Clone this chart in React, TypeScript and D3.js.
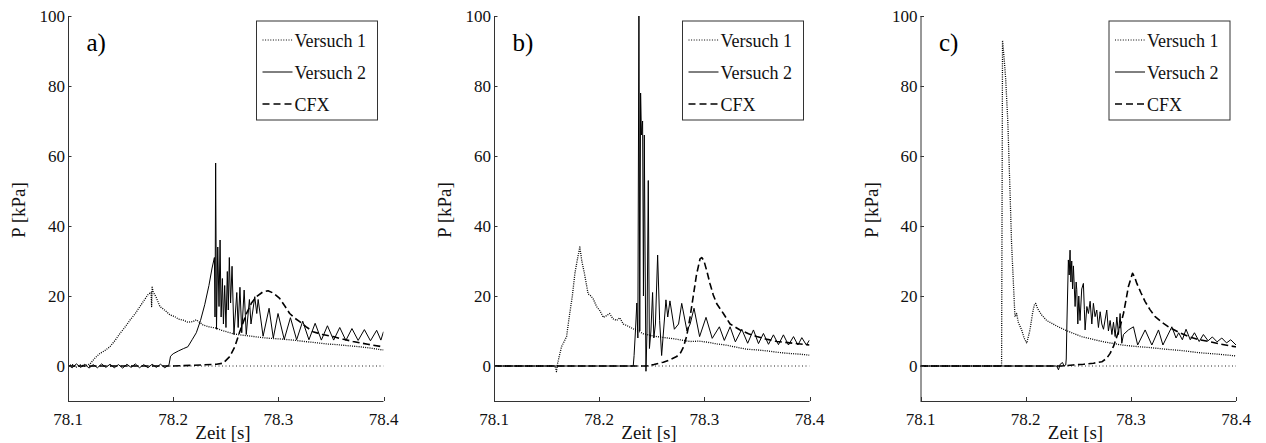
import React from "react";
import * as d3 from "d3";

// time axis / pressure axis
const xTicks = [78.1, 78.2, 78.3, 78.4];
const yTicks = [0, 20, 40, 60, 80, 100];
const panelLabels = ["a)", "b)", "c)"];
const seriesNames = ["Versuch 1", "Versuch 2", "CFX"];

// panel a
const aVersuch1 = [
  [78.1, 0], [78.104, 0.4], [78.108, -0.3], [78.112, 0.3], [78.116, 0], [78.121, 0.6],
  [78.126, 2.4], [78.1304, 3.6], [78.135, 4.4], [78.1399, 5.5], [78.145, 7.4], [78.1494, 9.3],
  [78.154, 11], [78.1589, 13.1], [78.164, 15], [78.1684, 17], [78.172, 18.6], [78.1763, 20.5],
  [78.179, 21], [78.1795, 17], [78.18, 22.5], [78.181, 21.2], [78.184, 19.5], [78.1874, 17],
  [78.19, 16.4], [78.1937, 15.5], [78.197, 14.6], [78.2016, 14.1], [78.205, 13.4], [78.2095, 13.1],
  [78.214, 12.5], [78.219, 12.7], [78.222, 13.2], [78.2285, 11.7], [78.234, 11.2], [78.2412, 10.8],
  [78.246, 10.2], [78.2507, 9.8], [78.257, 9.2], [78.2633, 8.9], [78.272, 8.6], [78.2823, 8.2],
  [78.292, 7.9], [78.303, 7.7], [78.314, 7.4], [78.325, 7], [78.3345, 6.7], [78.3457, 6.3],
  [78.356, 6.1], [78.366, 5.8], [78.3773, 5.5], [78.388, 5.1], [78.3989, 4.6], [78.4, 4.6],
];
const aVersuch2 = [
  [78.1, 0.3], [78.104, -0.5], [78.108, 0.6], [78.112, -0.4], [78.116, 0.5], [78.12, -0.6],
  [78.124, 0.4], [78.128, -0.5], [78.132, 0.6], [78.136, -0.4], [78.14, 0.5], [78.144, -0.5],
  [78.148, 0.4], [78.152, -0.6], [78.156, 0.5], [78.16, -0.4], [78.164, 0.6], [78.168, -0.5],
  [78.172, 0.4], [78.176, -0.5], [78.18, 0.5], [78.184, -0.4], [78.188, 0.5], [78.192, -0.5],
  [78.196, 0.3], [78.1975, 2.8], [78.2, 3.5], [78.205, 4.3], [78.21, 5], [78.214, 5.5],
  [78.218, 7.5], [78.222, 9.5], [78.226, 13], [78.23, 17.5], [78.234, 23], [78.237, 28],
  [78.2392, 31], [78.2398, 14], [78.2404, 58], [78.2412, 10.5], [78.2424, 34], [78.2436, 17],
  [78.2446, 36], [78.2456, 14], [78.2468, 25], [78.2478, 12], [78.249, 23], [78.2502, 11],
  [78.2515, 27], [78.2524, 16], [78.2534, 31], [78.2546, 18], [78.256, 28.5], [78.2578, 9],
  [78.2605, 21], [78.2618, 11], [78.2635, 22.5], [78.2652, 9.5], [78.2675, 21.7], [78.2695, 9],
  [78.2725, 19], [78.274, 12], [78.2776, 19.8], [78.2795, 15], [78.2808, 19], [78.2855, 8.5],
  [78.2912, 16.5], [78.2952, 8], [78.2997, 15], [78.3056, 7.6], [78.3115, 13.8], [78.3174, 7.5],
  [78.3232, 12.8], [78.3291, 7.5], [78.335, 12.2], [78.3409, 7.4], [78.3467, 11.5], [78.3526, 7.4],
  [78.3584, 11], [78.3642, 7.3], [78.37, 10.7], [78.3759, 7.3], [78.3818, 10.4], [78.3876, 7.2],
  [78.3935, 10.2], [78.3975, 7.4], [78.4, 9.8],
];
const aCFX = [
  [78.1, 0], [78.2, 0], [78.22, 0.2], [78.2412, 0.5], [78.2475, 0.8], [78.2538, 2.7],
  [78.2586, 5.5], [78.2633, 9.8], [78.2697, 15], [78.2745, 18], [78.2792, 19.8], [78.285, 21.1],
  [78.2902, 21.5], [78.2955, 20.8], [78.3013, 19.3], [78.306, 17.2], [78.3108, 15], [78.3155, 13.7],
  [78.3203, 12.7], [78.3265, 11.2], [78.3329, 9.8], [78.342, 9], [78.352, 8.4], [78.361, 7.7],
  [78.371, 7], [78.385, 6.2], [78.3989, 5.5], [78.4, 5.5],
];

// panel b
const bVersuch1 = [
  [78.1, 0], [78.158, 0], [78.1594, -1.6], [78.1605, 0.8], [78.1642, 5.5], [78.169, 8.4],
  [78.172, 15], [78.1745, 20], [78.1769, 26.4], [78.179, 30], [78.1816, 34], [78.1835, 30],
  [78.186, 26.4], [78.1895, 20.6], [78.1915, 20.2], [78.1943, 19.2], [78.1975, 17], [78.2007, 15.8],
  [78.2039, 13.9], [78.207, 14.4], [78.21, 15], [78.213, 13.5], [78.2166, 13], [78.2195, 13.8],
  [78.2229, 12], [78.226, 11.6], [78.2292, 11.1], [78.2325, 10.6], [78.2356, 10.2], [78.242, 9.2],
  [78.2475, 8.8], [78.2547, 8.4], [78.2625, 8.1], [78.2705, 7.8], [78.2785, 7.4], [78.2864, 7],
  [78.295, 7.1], [78.303, 6.8], [78.312, 6.3], [78.32, 6], [78.33, 5.4], [78.34, 4.8],
  [78.35, 4.6], [78.36, 4.3], [78.37, 3.9], [78.38, 3.6], [78.39, 3.4], [78.4, 3.1],
];
const bVersuch2 = [
  [78.1, 0], [78.2324, 0], [78.2332, 3], [78.2345, 10], [78.2358, 18], [78.2368, 8],
  [78.2378, 104], [78.2386, 10], [78.2394, 78], [78.2402, 66], [78.2413, 70], [78.2421, 20],
  [78.2429, 66], [78.2437, 30], [78.2445, -1.5], [78.2455, 10], [78.2467, 53], [78.2478, 5],
  [78.2492, 10], [78.2508, 21], [78.252, 8], [78.2535, 12], [78.2556, 31.7], [78.2575, 13],
  [78.2594, 3], [78.2635, 18.9], [78.2652, 14], [78.2673, 18.6], [78.2715, 10.5], [78.2755, 12],
  [78.2785, 17.9], [78.2835, 10], [78.2865, 12], [78.2902, 16.5], [78.2955, 8.4], [78.3016, 13.9],
  [78.3075, 7.9], [78.3143, 11.2], [78.319, 7.3], [78.3245, 11.2], [78.3295, 6.9], [78.3356, 10.5],
  [78.3412, 6.5], [78.3467, 10.3], [78.3515, 6.4], [78.3562, 9.3], [78.361, 6.2], [78.3657, 8.9],
  [78.3705, 6.1], [78.3752, 8.9], [78.38, 6], [78.3848, 8.4], [78.389, 6], [78.3927, 8.1],
  [78.397, 6], [78.4, 7.4],
];
const bCFX = [
  [78.1, 0], [78.2451, 0], [78.252, 0.4], [78.261, 1.1], [78.2675, 1.8], [78.2737, 2.7],
  [78.2775, 3.8], [78.28, 5.3], [78.2832, 8.5], [78.2864, 13.9], [78.2895, 20], [78.2925, 26],
  [78.2959, 30.6], [78.2975, 31], [78.2995, 30.2], [78.3025, 27], [78.3054, 23.5], [78.3085, 20.3],
  [78.3118, 17.8], [78.3181, 15], [78.3245, 12], [78.334, 10.3], [78.342, 9.2], [78.3499, 8.4],
  [78.36, 7.6], [78.369, 7], [78.385, 6.5], [78.4, 6],
];

// panel c
const cVersuch1 = [
  [78.1, 0], [78.1771, 0], [78.1777, 60], [78.178, 93], [78.1795, 88], [78.181, 82],
  [78.183, 70], [78.185, 51], [78.1866, 35], [78.1882, 24.6], [78.1898, 14.1], [78.1914, 15],
  [78.193, 12.5], [78.1962, 10.3], [78.1985, 8], [78.201, 6.5], [78.2041, 10.3], [78.2065, 15],
  [78.2082, 17.4], [78.2095, 17.9], [78.2115, 16.3], [78.2152, 14.6], [78.22, 13], [78.2248, 12.2],
  [78.231, 11.2], [78.2374, 10.3], [78.2455, 9.3], [78.2533, 8.4], [78.2625, 7.7], [78.2724, 7],
  [78.282, 6.5], [78.2914, 6], [78.304, 5.6], [78.3168, 5.3], [78.333, 4.8], [78.3486, 4.4],
  [78.365, 3.8], [78.382, 3.4], [78.3993, 2.9], [78.4, 2.9],
];
const cVersuch2 = [
  [78.1, 0], [78.2295, 0], [78.2312, -1.1], [78.2328, 0.5], [78.235, 1], [78.2365, 0],
  [78.2381, 0.3], [78.2386, 2], [78.2392, 12], [78.2406, 30.3], [78.2414, 26], [78.2422, 33.1],
  [78.243, 24], [78.2438, 30], [78.2446, 22], [78.2454, 28.6], [78.247, 17], [78.248, 24],
  [78.2486, 21.8], [78.2496, 12], [78.2505, 20], [78.2517, 13], [78.2533, 22], [78.2549, 23.6],
  [78.2558, 16.2], [78.2565, 10.3], [78.2582, 17], [78.2597, 15], [78.2613, 18.5], [78.2629, 12],
  [78.2644, 17.9], [78.266, 14.1], [78.2676, 16], [78.2692, 11], [78.2708, 15.5], [78.2724, 12],
  [78.274, 10.5], [78.2771, 16], [78.2787, 10], [78.2803, 13], [78.282, 9], [78.2835, 12.5],
  [78.2851, 8.4], [78.2867, 14], [78.2883, 9], [78.2898, 15], [78.2914, 6.5], [78.293, 9],
  [78.2977, 10.3], [78.3025, 11.2], [78.3065, 6], [78.3136, 10.3], [78.32, 6], [78.3263, 10.3],
  [78.3305, 6], [78.339, 11.2], [78.343, 8], [78.3455, 9.5], [78.349, 7.5], [78.3525, 10.5],
  [78.3565, 7.5], [78.3605, 9.5], [78.365, 7], [78.369, 9], [78.3735, 7.2], [78.3775, 8.3],
  [78.382, 6.9], [78.3865, 8], [78.391, 6.6], [78.395, 7.5], [78.4, 6],
];
const cCFX = [
  [78.1, 0], [78.2343, 0], [78.245, 0.3], [78.255, 0.5], [78.2645, 0.8], [78.2724, 1.2],
  [78.277, 2.2], [78.2803, 3.6], [78.2835, 5.6], [78.2867, 8.4], [78.29, 11.5], [78.293, 15],
  [78.2955, 19], [78.2977, 22.7], [78.3016, 26.5], [78.3035, 25.5], [78.3057, 23.6], [78.3095, 21],
  [78.3136, 18.4], [78.3182, 16.1], [78.3231, 14.1], [78.3295, 12.5], [78.3358, 11.2], [78.345, 9.7],
  [78.3549, 8.4], [78.364, 7.6], [78.3739, 7], [78.386, 6.2], [78.3993, 5.5], [78.4, 5.5],
];

const panelData = [
  [aVersuch1, aVersuch2, aCFX],
  [bVersuch1, bVersuch2, bCFX],
  [cVersuch1, cVersuch2, cCFX],
];

const W = 1266, H = 443;
const FONT = "Liberation Serif";
const LEFT = [68, 494, 920.5]; // plot left edge of each panel
const PW = 315.5, TOP = 16, BOTTOM = 401;
const DASH = ["1,1.2", undefined, "7,3.5"];
const SW = [1.3, 1, 1.6];

function Panel({ i }: { i: number }) {
  const x0 = LEFT[i];
  const x = d3.scaleLinear().domain([78.1, 78.4]).range([x0, x0 + PW]);
  const y = d3.scaleLinear().domain([-10, 100]).range([BOTTOM, TOP]);
  const line = d3.line<number[]>().x(d => x(d[0])).y(d => y(d[1]));
  const lx = x0 + 188.5;
  const rows = [40, 72, 104];

  return (
    <g>
      <defs>
        <clipPath id={"clip" + i}>
          <rect x={x0} y={TOP} width={PW} height={BOTTOM - TOP} />
        </clipPath>
      </defs>
      <g clipPath={`url(#clip${i})`}>
        <line x1={x(78.1)} x2={x(78.4)} y1={y(0)} y2={y(0)}
          stroke="#222" strokeWidth={1} strokeDasharray="1,2.5" />
        {panelData[i].map((s, k) => (
          <path key={k} d={line(s as number[][]) || ""} fill="none" stroke="#000"
            strokeWidth={SW[k]} strokeLinejoin="round" strokeDasharray={DASH[k]} />
        ))}
      </g>

      {/* axes: left and bottom only, ticks inward */}
      <line x1={x0 + 0.5} x2={x0 + 0.5} y1={TOP} y2={BOTTOM} stroke="#333" />
      <line x1={x0} x2={x0 + PW} y1={BOTTOM + 0.5} y2={BOTTOM + 0.5} stroke="#333" />
      {yTicks.map(t => (
        <g key={"y" + t}>
          <line x1={x0} x2={x0 + 3.5} y1={Math.round(y(t)) + 0.5} y2={Math.round(y(t)) + 0.5} stroke="#333" />
          <text x={x0 - 3} y={y(t)} dy="0.34em" textAnchor="end" fill="#111"
            style={{ fontFamily: FONT, fontSize: 17 }}>{t}</text>
        </g>
      ))}
      {xTicks.map(t => (
        <g key={"x" + t}>
          <line x1={Math.round(x(t)) + 0.5} x2={Math.round(x(t)) + 0.5} y1={BOTTOM} y2={BOTTOM - 4} stroke="#333" />
          <text x={x(t)} y={425} textAnchor="middle" fill="#111"
            style={{ fontFamily: FONT, fontSize: 17 }}>{d3.format(".1f")(t)}</text>
        </g>
      ))}

      <text transform={`translate(${x0 - 43},210) rotate(-90)`} textAnchor="middle" fill="#111"
        style={{ fontFamily: FONT, fontSize: 19 }}>P [kPa]</text>
      <text x={x0 + 155} y={439} textAnchor="middle" fill="#111"
        style={{ fontFamily: FONT, fontSize: 19 }}>Zeit [s]</text>

      <text x={x0 + 18.5} y={51} fill="#000" style={{ fontFamily: FONT, fontSize: 25 }}>
        {panelLabels[i]}
      </text>

      {/* legend */}
      <rect x={lx} y={21} width={121} height={99} fill="#fff" stroke="#333" />
      {seriesNames.map((name, k) => (
        <g key={name}>
          <line x1={lx + 6} x2={lx + 36} y1={rows[k]} y2={rows[k]} stroke="#000"
            strokeWidth={k === 0 ? 1 : SW[k]}
            strokeDasharray={k === 2 ? "7,4" : k === 0 ? "1,1.6" : undefined} />
          <text x={lx + 38} y={rows[k] + 6.5} fill="#111"
            style={{ fontFamily: FONT, fontSize: 18 }}>{name}</text>
        </g>
      ))}
    </g>
  );
}

export default function App() {
  return (
    <svg width={W} height={H} style={{ position: "absolute", left: 0, top: 0, background: "#fff" }}>
      {panelData.map((_, i) => <Panel key={i} i={i} />)}
    </svg>
  );
}
